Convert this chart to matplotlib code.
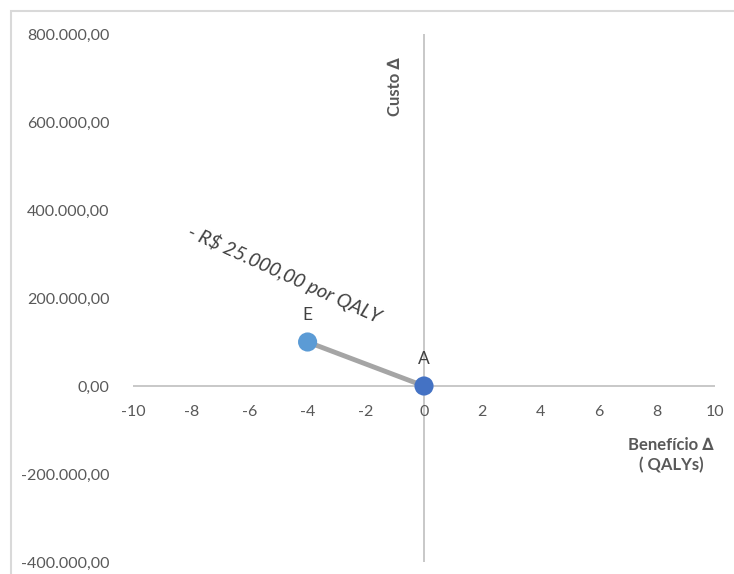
import matplotlib.pyplot as plt
import matplotlib.patches as mpatches
from matplotlib.ticker import FuncFormatter, MultipleLocator

# Alternativas: beneficio incremental (QALYs) e custo incremental (R$)
rotulos = ["A", "E"]
beneficio = [0, -4]
custo = [0, 100000]
cores = ["#4472c4", "#5b9bd5"]

x_lim = (-10, 10)
y_lim = (-400000, 800000)
limiar = "- R$ 25.000,00 por QALY"

plt.rcParams["font.family"] = ["Lato", "DejaVu Sans"]

W, H = 734, 574
fig = plt.figure(figsize=(W / 100, H / 100), dpi=100)
ax = fig.add_axes([133 / W, 1 - 562 / H, (715 - 133) / W, (562 - 34) / H])

# Moldura do grafico
fig.patches.append(mpatches.Rectangle(
    (11 / W, -0.05), 1.1, 1 - 11 / H + 0.05, transform=fig.transFigure,
    fill=False, edgecolor="#d9d9d9", linewidth=1.5, zorder=0))

ax.set_xlim(*x_lim)
ax.set_ylim(*y_lim)
for s in ax.spines.values():
    s.set_visible(False)

# Eixos cruzando na origem
ax.axhline(0, color="#bfbfbf", lw=1.2, zorder=1)
ax.axvline(0, color="#bfbfbf", lw=1.2, zorder=1)

ax.xaxis.set_major_locator(MultipleLocator(2))
ax.yaxis.set_major_locator(MultipleLocator(200000))
ax.yaxis.set_major_formatter(FuncFormatter(
    lambda v, p: f"{v:,.2f}".replace(",", "X").replace(".", ",").replace("X", ".")))
ax.tick_params(axis="y", length=0, pad=17, labelsize=11.5, labelcolor="#595959")
ax.tick_params(axis="x", length=0, pad=0, labelsize=11.5, labelcolor="#595959")

# Rotulos do eixo x logo abaixo da linha y=0
ax.set_xticks(range(x_lim[0], x_lim[1] + 1, 2))
ax.set_xticklabels([])
for t in range(x_lim[0], x_lim[1] + 1, 2):
    ax.text(t, -58000, f"{t}", ha="center", va="center",
            fontsize=11.5, color="#595959")

# Linha entre as alternativas
ax.plot(beneficio, custo, color="#a5a5a5", lw=3.5, zorder=2, solid_capstyle="round")
for xi, yi, c, r in zip(beneficio, custo, cores, rotulos):
    ax.scatter(xi, yi, s=190, color=c, zorder=3, edgecolors="none")
    ax.annotate(r, (xi, yi), xytext=(0, 14), textcoords="offset points",
                ha="center", va="bottom", fontsize=12.5, color="#404040")

ax.text(-4.8, 254000, limiar, rotation=-24.5, rotation_mode="anchor",
        ha="center", va="center", fontsize=14, style="italic", color="#404040")

ax.text(-1.0, 680000, "Custo \u2206", rotation=90, ha="center", va="center",
        fontsize=12, fontweight="bold", color="#595959")
ax.text(8.5, -157000, "Benef\u00edcio \u2206\n( QALYs)", ha="center", va="center",
        fontsize=12, fontweight="bold", color="#595959", linespacing=1.25)

fig.savefig("out.png", dpi=100)
